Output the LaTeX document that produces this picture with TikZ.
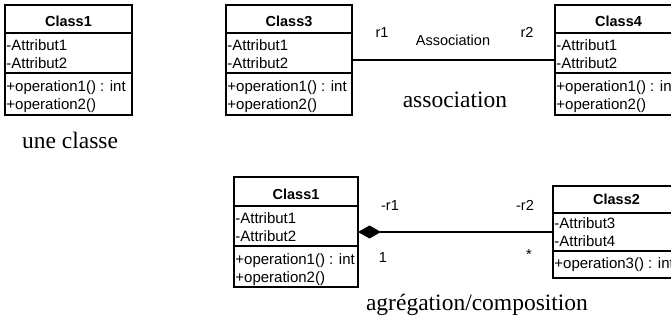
\documentclass[tikz,border=0pt]{standalone}
\usepackage{fontspec}
\setmainfont{Liberation Serif}
\setsansfont{Liberation Sans}
\usetikzlibrary{arrows.meta}
\tikzset{
  x=1pt, y=-1pt,
  cbox/.style={draw, line width=1.5pt, anchor=north west, inner sep=0pt, outer sep=0pt},
  sepline/.style={line width=1.5pt},
  ctitle/.style={font=\sffamily\bfseries\fontsize{14.5}{16}\selectfont, inner sep=0pt, anchor=base},
  item/.style={font=\sffamily\fontsize{15}{18}\selectfont, anchor=base west, inner sep=0pt},
  lbl/.style={font=\sffamily\fontsize{14.5}{16}\selectfont, inner sep=0pt},
  capt/.style={font=\fontsize{23.5}{26}\selectfont, inner sep=0pt},
  conn/.style={line width=1.3pt}
}
\begin{document}
\begin{tikzpicture}
\path[use as bounding box, clip] (0,0) rectangle (671,320);
\fill[white] (0,0) rectangle (671,320);

% ---- Class1 (top left)
\node[cbox, minimum width=127pt, minimum height=110pt] (k1) at (5,5) {};
\draw[sepline] ([yshift=-28pt]k1.north west) -- ([yshift=-28pt]k1.north east);
\draw[sepline] ([yshift=-68pt]k1.north west) -- ([yshift=-68pt]k1.north east);
\node[ctitle] (k1t) at ([yshift=-22pt]k1.north) {Class1};
\node[item] (k1a1) at ([xshift=1.2pt,yshift=-45.5pt]k1.north west) {-Attribut1};
\node[item] (k1a2) at ([xshift=1.2pt,yshift=-63.5pt]k1.north west) {-Attribut2};
\node[item] (k1o1) at ([xshift=1.2pt,yshift=-86.5pt]k1.north west) {+operation1() : int};
\node[item] (k1o2) at ([xshift=1.2pt,yshift=-104.5pt]k1.north west) {+operation2()};
\node[capt] (cap1) at (70,140) {une classe};

% ---- Class3
\node[cbox, minimum width=126pt, minimum height=110pt] (k3) at (226,5) {};
\draw[sepline] ([yshift=-28pt]k3.north west) -- ([yshift=-28pt]k3.north east);
\draw[sepline] ([yshift=-68pt]k3.north west) -- ([yshift=-68pt]k3.north east);
\node[ctitle] (k3t) at ([yshift=-22pt]k3.north) {Class3};
\node[item] (k3a1) at ([xshift=1.2pt,yshift=-45.5pt]k3.north west) {-Attribut1};
\node[item] (k3a2) at ([xshift=1.2pt,yshift=-63.5pt]k3.north west) {-Attribut2};
\node[item] (k3o1) at ([xshift=1.2pt,yshift=-86.5pt]k3.north west) {+operation1() : int};
\node[item] (k3o2) at ([xshift=1.2pt,yshift=-104.5pt]k3.north west) {+operation2()};

% ---- Class4
\node[cbox, minimum width=127pt, minimum height=110pt] (k4) at (555,5) {};
\draw[sepline] ([yshift=-28pt]k4.north west) -- ([yshift=-28pt]k4.north east);
\draw[sepline] ([yshift=-68pt]k4.north west) -- ([yshift=-68pt]k4.north east);
\node[ctitle] (k4t) at ([yshift=-22pt]k4.north) {Class4};
\node[item] (k4a1) at ([xshift=1.2pt,yshift=-45.5pt]k4.north west) {-Attribut1};
\node[item] (k4a2) at ([xshift=1.2pt,yshift=-63.5pt]k4.north west) {-Attribut2};
\node[item] (k4o1) at ([xshift=1.2pt,yshift=-86.5pt]k4.north west) {+operation1() : int};
\node[item] (k4o2) at ([xshift=1.2pt,yshift=-104.5pt]k4.north west) {+operation2()};

% association
\draw[conn] (k3.east) -- (k4.west);
\node[lbl] (r1) at (382,33) {r1};
\node[lbl] (as) at (453,40) {Association};
\node[lbl] (r2) at (527,32) {r2};
\node[capt] (cap2) at (455,100) {association};

% ---- Class1 (bottom)
\node[cbox, minimum width=124pt, minimum height=110pt] (k5) at (234,177) {};
\draw[sepline] ([yshift=-29pt]k5.north west) -- ([yshift=-29pt]k5.north east);
\draw[sepline] ([yshift=-69pt]k5.north west) -- ([yshift=-69pt]k5.north east);
\node[ctitle] (k5t) at ([yshift=-22.5pt]k5.north) {Class1};
\node[item] (k5a1) at ([xshift=1.2pt,yshift=-46.5pt]k5.north west) {-Attribut1};
\node[item] (k5a2) at ([xshift=1.2pt,yshift=-64.5pt]k5.north west) {-Attribut2};
\node[item] (k5o1) at ([xshift=1.2pt,yshift=-87.5pt]k5.north west) {+operation1() : int};
\node[item] (k5o2) at ([xshift=1.2pt,yshift=-105pt]k5.north west) {+operation2()};

% ---- Class2
\node[cbox, minimum width=127pt, minimum height=92pt] (k2) at (553,186) {};
\draw[sepline] ([yshift=-27pt]k2.north west) -- ([yshift=-27pt]k2.north east);
\draw[sepline] ([yshift=-65pt]k2.north west) -- ([yshift=-65pt]k2.north east);
\node[ctitle] (k2t) at ([yshift=-19pt]k2.north) {Class2};
\node[item] (k2a1) at ([xshift=1.2pt,yshift=-43pt]k2.north west) {-Attribut3};
\node[item] (k2a2) at ([xshift=1.2pt,yshift=-61pt]k2.north west) {-Attribut4};
\node[item] (k2o1) at ([xshift=1.2pt,yshift=-82pt]k2.north west) {+operation3() : int};

% composition
\draw[conn, {Diamond[length=23pt,width=13pt]}-] (k5.east) -- (k5.east -| k2.west);
\node[lbl] (mr1) at (390,206) {-r1};
\node[lbl] (mr2) at (525,205) {-r2};
\node[lbl] (m1) at (383,258) {1};
\node[lbl] (ms) at (529,255) {*};
\node[capt] (cap3) at (477,305) {agrégation/composition};
\end{tikzpicture}
\end{document}
